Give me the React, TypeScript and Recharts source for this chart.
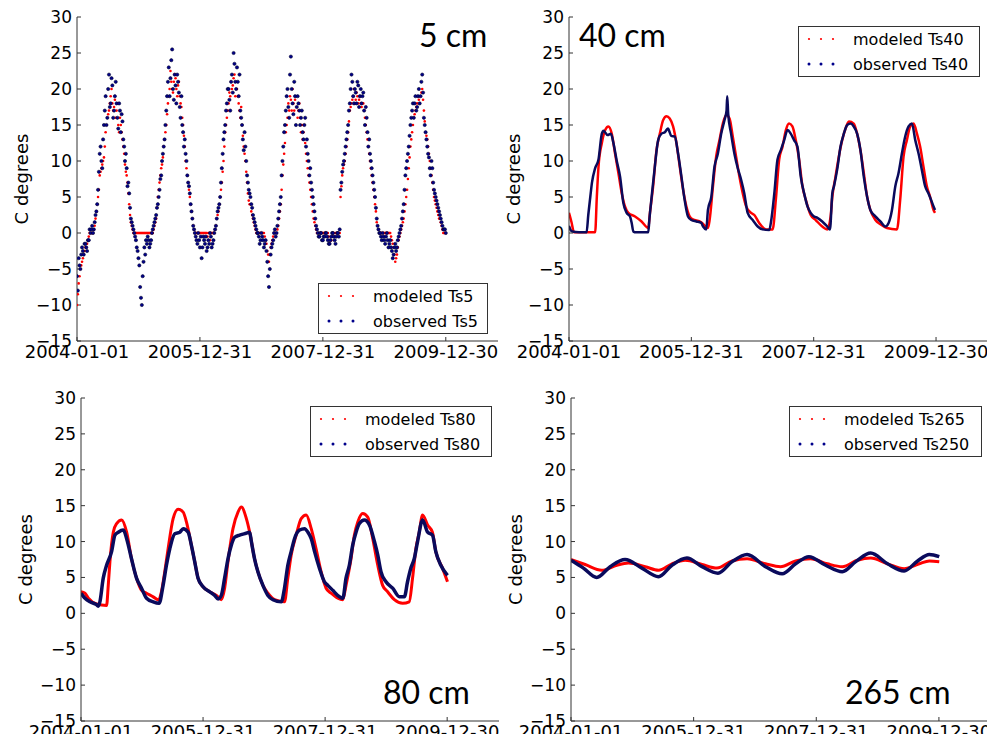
import React from 'react';
import { ComposedChart, Scatter, Line, XAxis, YAxis, Legend } from 'recharts';

const DATE_TICKS = [0, 730, 1460, 2190];
const DATE_LABELS = ['2004-01-01', '2005-12-31', '2007-12-31', '2009-12-30'];
const TEMP_TICKS = [-15, -10, -5, 0, 5, 10, 15, 20, 25, 30];

const RED = '#ff0000';
const NAVY = '#0a0a5c';
const DOT_NAVY = '#00008b';
const FRAME = '#333';
const FONT = '"DejaVu Sans", sans-serif';

// 5 cm: one reading every 5 days from 2004-01-01 (rows = 100 days)
const STEP_5 = 5;
const modeled5 = [
  -10, -8.5, -7, -6, -5, -4.5, -4, -3.5, -3, -2.5, -2, -2, -1.5, -1, -0.5, 0, 0, 0, 0, 0,
  0.5, 1, 2, 3, 4, 5, 6, 8, 8.5, 9, 9.5, 10, 10.5, 12, 14, 15, 16, 16.5, 17, 18,
  19, 20, 18, 17, 17.5, 18.5, 16, 17, 18, 15, 14, 16, 15, 14, 13, 12, 11, 9.5, 8.5, 8,
  7, 5.5, 4, 2.5, 1.5, 1, 0.5, 0, 0, 0, 0, 0, 0, 0, 0, 0, 0, 0, 0, 0,
  0, 0, 0, 0, 0, 0, 0, 0, 0, 0, 0, 0.5, 1, 1.5, 2, 3.5, 5, 6, 7, 8,
  9, 9.5, 10.5, 12, 13, 14, 15, 16.5, 18, 19, 20, 22.5, 21, 20, 19.5, 21, 22, 21.5, 20, 19,
  20.5, 21, 19, 18, 17.5, 16, 15, 13.5, 12, 10, 9, 8, 7, 6, 5, 4, 3, 2, 1, 0.5,
  0, 0, 0, 0, 0, 0, 0, 0, 0, 0, 0, 0, 0, 0, 0, -0.5, 0, 0, -1, 0,
  0, 0, 0, 0, 0.5, 1, 2, 2.5, 3, 4, 5, 6, 7, 8.5, 10, 12, 14, 15, 16, 17,
  18, 19.5, 19, 21, 20, 20.5, 21.5, 22, 19, 21, 20, 19, 18, 17, 16, 17.5, 15, 13.5, 12, 11,
  10, 8.5, 7, 5.5, 4.5, 4, 4, 3, 2.5, 2, 1.5, 1, 0.5, 0, 0, 0, 0, 0, 0, 0,
  0, 0, 0, -0.5, -1, -1.5, -2.5, -3, -4, -3, -2, -1.5, -1, -0.5, 0, 0, 0, 0, 0.5, 1,
  2, 3, 4, 6, 8, 9.5, 11, 12.5, 14, 15, 16, 18, 17, 19, 18.5, 17, 20, 18, 17, 18.5,
  19, 17.5, 16, 17, 18, 16, 14, 15, 13, 14, 15, 12.5, 11, 10, 9, 8, 7, 6, 5, 4,
  3, 2, 1.5, 1, 0.5, 0, 0, 0, 0, 0, 0, 0, 0, 0, 0, 0, 0, 0, 0, -0.5,
  -1.5, -1, -1, -0.5, 0, 0, -0.5, 0, 0, 0, 0, 0, 0, 5, 6.5, 8, 9, 9.5, 10, 11,
  12, 13, 14, 15.5, 17, 17.5, 18, 18.5, 19, 20, 18, 18.5, 19.5, 19, 18, 18.5, 19, 18, 17.5, 18,
  18, 17, 16, 15, 14, 13, 12, 11, 10, 9, 8, 7, 6, 5, 4, 3, 1.5, 1, 0.5, 0,
  0, 0, 0, 0, 0, 0, 0, 0, 0, 0, 0, 0, 0, -0.5, -1, -1.5, -2, -3, -4, -3.5,
  -3, -2, -1, -0.5, 0, 0.5, 1, 1.5, 2, 3, 4, 5, 6, 7.5, 9, 10.5, 12, 13, 14, 15,
  16, 16.5, 17, 17.5, 18, 19, 18.5, 18, 19, 19.5, 20, 18.5, 17, 15.5, 14, 13.5, 13, 12, 11, 10,
  9, 8, 7, 6, 5, 4.5, 4, 3.5, 3, 2.5, 2, 2, 1.5, 1, 0.5, 0, 0, 0, 0,
];
const observed5 = [
  -6, -8, -3.5, -4.5, -5, -3, -2, -2.5, -3, -1.5, -1.5, -2, -2.5, -1, -1, 0.5, 0, 0.5, 1, 0,
  0.5, 1.5, 2.5, 3, 4, 6, 8.5, 11, 12, 10, 9, 13, 15, 17, 19, 15, 16, 20, 22, 17.5,
  18, 21.5, 20.5, 16, 17, 19, 21, 18, 16, 14.5, 18, 17, 14, 16.5, 15.5, 13, 12, 10, 11, 9,
  6.5, 7, 5.5, 3.5, 2, 1.5, 1, 0.5, 0, -0.5, -1, -2, -2.5, -3.5, -4.5, -7.5, -9, -10, -6, -4,
  -2, -3, -1, -1.5, -0.5, -1, -2, -1.5, -1, 0, 0.5, 1, 1.5, 2, 2.5, 3.5, 4, 5, 6, 7.5,
  8, 10, 11, 12, 13, 15, 17, 19, 21, 23, 19, 21.5, 24, 25.5, 20, 18.5, 22, 20.5, 18, 22,
  21, 19.5, 17.5, 16, 19, 15, 14, 12, 13, 11, 10, 8, 7, 6.5, 5.5, 4, 3, 2, 1, 0.5,
  0, -0.5, -1, -1.5, 0, -1, -2, -0.5, -3.5, -2, -0.5, -1, -1.5, -0.5, -2.5, -2, -1, -1.5, 0, -0.5,
  -2, -1.5, -1, 0, 0.5, 1, 2, 3, 3.5, 4, 5, 7, 9, 11, 13, 14, 15, 17, 18, 20,
  20, 18.5, 17, 21, 22, 19.5, 25, 23.5, 21, 20, 23, 21, 19, 22, 17, 16, 15, 13, 11.5, 14,
  12, 10, 8, 7, 6, 5.5, 5, 4, 3.5, 2.5, 2, 1.5, 1, 0.5, 0, 0, -0.5, -1.5, -1, 0,
  -0.5, -1, -2, -1.5, -1, -2.5, -4, -6, -7.5, -5, -3, -2, -1.5, -1, 0, 0.5, -0.5, 0, 1, 2,
  3, 4, 5, 8, 10, 12, 14, 15, 17, 19, 20, 17.5, 16, 22, 24.5, 20, 18, 16.5, 21, 19,
  15, 17.5, 19, 18, 17, 15, 16, 17, 14, 13, 15, 16, 12, 13, 11, 10, 8, 9, 7, 6,
  5, 4, 3, 2, 1, 0.5, 0, -0.5, -0.5, 0, 0, -1, -1, -0.5, -0.5, 0, 0, -0.5, -1, -1.5,
  -1.5, -1, -0.5, 0, 0, -0.5, -1, -1.5, -0.5, 0, 0, -0.5, 0.5, 6, 7, 8.5, 9.5, 10, 11, 12,
  13, 14, 15, 17, 18, 20, 22, 21, 19, 18, 20, 19.5, 18, 21, 20.5, 17.5, 19, 20, 18, 19,
  19.5, 17, 15, 17.5, 16, 14, 12, 13, 11, 10, 9, 8, 7, 6, 5, 3.5, 2, 1, 0.5, 0,
  0, -0.5, -1, 0, -0.5, -1, -1.5, -0.5, 0, -1, -2, -1.5, -1, -2, -2.5, -3.5, -3, -2, -1.5, -2.5,
  -2, -1, -0.5, 0, 0.5, 1, 2, 3, 4, 6, 8, 9, 10, 11, 12, 13.5, 15, 16, 17, 18,
  16, 18, 19, 17, 17.5, 19, 20, 18, 19, 21, 22, 19.5, 16, 15, 14, 13, 12, 11, 10.5, 9,
  8, 10, 9, 7, 6, 5.5, 5, 4.5, 4, 3.5, 3, 2.5, 2, 1.5, 1, 0.5, 0.5, 0.5, 0,
];

// deeper sensors: [day since 2004-01-01, temperature]
const modeled40: [number, number][] = [
  [0, 2.8], [15, 1.5], [30, 0.1], [156, 0.1], [166, 5], [176, 9.2], [196, 12.5], [216, 14.3], [235, 14.8], [255, 13.8],
  [275, 11], [295, 8.3], [315, 5.5], [334, 3.7], [354, 2.8], [394, 2.3], [433, 1.6], [473, 0.7], [483, 2.8], [502, 6.5],
  [522, 11.5], [542, 13.8], [562, 15.7], [582, 16.2], [601, 15.9], [621, 14.8], [641, 12.5], [661, 9.2], [681, 6], [700, 3.7],
  [730, 2], [789, 1.5], [829, 0.7], [839, 1.8], [859, 6.5], [878, 10.6], [898, 12.9], [918, 15.2], [938, 16.4], [958, 15.9],
  [977, 13.4], [997, 10.6], [1017, 7.8], [1037, 5.5], [1057, 3.7], [1086, 2.8], [1106, 2.5], [1135, 1.4], [1175, 0.5], [1215, 0.5],
  [1234, 4.6], [1254, 10.2], [1274, 12], [1294, 14.3], [1313, 15.2], [1333, 14.8], [1353, 12.9], [1373, 10.2], [1393, 6.5], [1413, 4.6],
  [1442, 2.5], [1472, 1.8], [1511, 0.9], [1541, 0.5], [1561, 2.3], [1571, 5], [1590, 7.8], [1610, 10.6], [1630, 12.9], [1650, 14.5],
  [1670, 15.5], [1699, 15.2], [1719, 13.8], [1739, 11.5], [1759, 8.3], [1779, 5], [1798, 3.2], [1828, 1.8], [1858, 1.2], [1897, 0.7],
  [1957, 0.5], [1976, 4.6], [1996, 10.6], [2016, 12.9], [2036, 14.8], [2056, 15.2], [2076, 13.8], [2095, 12], [2115, 9.2], [2135, 6.5],
  [2155, 5], [2175, 3.2], [2184, 2.8],
];
const observed40: [number, number][] = [
  [0, 1], [10, 0.4], [20, 0.2], [60, 0.1], [105, 0.1], [115, 2.5], [127, 5], [137, 7], [156, 9], [176, 10.2],
  [196, 13.8], [206, 14.2], [230, 13.6], [250, 13.8], [265, 12.5], [285, 10], [305, 7.8], [324, 4.2], [344, 2.8], [364, 2.3],
  [374, 1.4], [384, 0.2], [400, 0.1], [473, 0.1], [480, 2], [493, 5], [512, 9.2], [532, 12.9], [552, 13.8], [572, 14],
  [590, 14.5], [610, 13.5], [631, 13.4], [651, 11], [671, 7.8], [690, 4.6], [710, 2.3], [730, 1.8], [760, 1.6], [789, 1.4],
  [800, 0.9], [819, 0.5], [829, 3.2], [849, 5], [868, 9.2], [888, 11], [908, 13.8], [928, 15.7], [940, 17], [944, 19],
  [950, 16.5], [967, 13.8], [987, 11], [1007, 9], [1027, 7.4], [1046, 5.5], [1066, 2.8], [1096, 1.8], [1126, 0.9], [1155, 0.5],
  [1195, 0.4], [1205, 1.5], [1225, 5.5], [1244, 10.2], [1264, 11.5], [1284, 12.9], [1304, 14.3], [1323, 13.8], [1343, 12.9], [1363, 12],
  [1383, 7.8], [1403, 5.5], [1423, 3.7], [1442, 2.8], [1462, 2.3], [1482, 2.1], [1511, 1.6], [1541, 0.9], [1557, 0.5], [1571, 5.5],
  [1581, 6.5], [1600, 8.8], [1620, 12], [1640, 13.8], [1660, 15], [1680, 15.2], [1699, 14.8], [1719, 13.8], [1739, 11.5], [1759, 7.8],
  [1779, 5], [1798, 3.2], [1828, 2.3], [1858, 1.6], [1887, 0.9], [1907, 1.4], [1927, 3.2], [1947, 6.5], [1966, 8.3], [1986, 11],
  [2006, 13.4], [2026, 14.8], [2046, 15.2], [2066, 12.9], [2086, 11], [2105, 8.8], [2125, 6.5], [2145, 5.5], [2175, 3.7], [2184, 3.2],
];

const modeled80: [number, number][] = [
  [0, 3], [24, 2.8], [44, 2.1], [93, 1.3], [153, 1.1], [163, 3.9], [173, 7.2], [193, 11.3], [213, 12.5], [243, 13],
  [273, 11.3], [302, 7.6], [332, 4.9], [362, 3.2], [392, 2.8], [432, 2.3], [461, 1.9], [481, 3], [501, 5.8], [521, 9],
  [551, 13.2], [581, 14.5], [611, 14.1], [631, 12.7], [660, 9.5], [680, 7.2], [700, 4.9], [730, 3.7], [770, 3], [810, 2.5],
  [839, 1.9], [859, 3.5], [879, 7.2], [909, 11.8], [939, 14.1], [959, 14.8], [989, 13.2], [1009, 11.3], [1038, 7.6], [1058, 5.8],
  [1088, 3.9], [1118, 2.8], [1158, 1.9], [1217, 1.6], [1237, 4.9], [1257, 8.1], [1287, 10.9], [1317, 13.2], [1347, 13.7], [1377, 11.8],
  [1406, 9], [1436, 5.8], [1466, 3.5], [1496, 2.8], [1536, 2.1], [1566, 1.9], [1585, 3.9], [1615, 7.6], [1635, 10.9], [1655, 12.7],
  [1685, 13.9], [1715, 13.4], [1745, 10.4], [1775, 6.7], [1804, 3.9], [1834, 3], [1874, 1.9], [1924, 1.4], [1963, 1.6], [1983, 4.9],
  [2003, 9], [2023, 11.3], [2043, 13.7], [2073, 12.3], [2102, 11.3], [2122, 8.6], [2162, 6.3], [2192, 4.4],
];
const observed80: [number, number][] = [
  [0, 2.8], [24, 2.1], [54, 1.6], [93, 1.2], [103, 1], [113, 1.6], [133, 4.9], [153, 6.7], [183, 8.6], [203, 10.9],
  [223, 11.3], [253, 11.6], [273, 10.4], [302, 7.6], [332, 4.9], [362, 3.5], [392, 2.1], [432, 1.6], [467, 1.4], [491, 3.9],
  [511, 6.7], [531, 9], [561, 11.1], [591, 11.3], [611, 11.8], [641, 11.3], [660, 9.5], [680, 7.2], [700, 4.9], [730, 3.7],
  [770, 3], [800, 2.5], [820, 2], [839, 2.5], [859, 4.9], [879, 7.6], [899, 9.5], [919, 10.6], [949, 10.9], [979, 11.1],
  [1009, 11.3], [1019, 10], [1038, 7.6], [1058, 5.8], [1088, 3.9], [1118, 2.5], [1148, 1.9], [1198, 1.6], [1217, 3.5], [1237, 6.7],
  [1257, 8.6], [1277, 10.4], [1307, 11.6], [1337, 11.8], [1357, 11.3], [1377, 10.4], [1397, 8.6], [1426, 6.3], [1456, 4.4], [1476, 3.9],
  [1506, 3.2], [1546, 2.3], [1566, 2.1], [1585, 4.9], [1605, 6.7], [1625, 9.5], [1645, 11.3], [1665, 12.5], [1695, 13], [1725, 12.3],
  [1755, 10], [1775, 8.1], [1794, 5.8], [1824, 4.4], [1864, 3.5], [1904, 2.3], [1934, 2.3], [1953, 4.4], [1973, 6.3], [1993, 7.6],
  [2013, 10], [2043, 13], [2073, 11.3], [2102, 10.9], [2122, 8.6], [2152, 6.7], [2192, 5.3],
];

const modeled265: [number, number][] = [
  [0, 7.5], [84, 6.8], [183, 6], [273, 6.7], [342, 7], [442, 6.5], [521, 6], [601, 6.9], [680, 7.4], [780, 6.8],
  [869, 6.3], [959, 7.3], [1048, 7.6], [1158, 6.9], [1247, 6.5], [1337, 7.3], [1426, 7.6], [1526, 6.9], [1615, 6.5], [1705, 7.4],
  [1784, 7.7], [1884, 6.9], [1983, 6.2], [2073, 6.9], [2133, 7.3], [2192, 7.2],
];
const observed250: [number, number][] = [
  [0, 7.4], [74, 6.3], [153, 5], [233, 6.5], [322, 7.5], [422, 6.3], [521, 5.1], [601, 6.7], [690, 7.7], [780, 6.5],
  [875, 5.6], [959, 7.2], [1048, 8.2], [1158, 6.5], [1257, 5.5], [1337, 6.9], [1416, 7.9], [1516, 6.7], [1615, 5.8], [1695, 7.2],
  [1784, 8.4], [1884, 6.9], [1983, 5.9], [2063, 7.3], [2133, 8.2], [2192, 7.9],
];

const every = (vals: number[], step: number) => vals.map((temp, i) => ({ day: i * step, temp }));
const pairs = (rows: [number, number][]) => rows.map(([day, temp]) => ({ day, temp }));

const redDot = (p: any) => <circle cx={p.cx} cy={p.cy} r={1.3} fill={RED} />;
const navyDot = (p: any) => (
  <circle cx={p.cx} cy={p.cy} r={1.6} fill={DOT_NAVY} stroke="#000030" strokeWidth={0.6} />
);

const dateLabel = (v: number) => DATE_LABELS[DATE_TICKS.indexOf(v)] ?? '';
const tempLabel = (v: number) => (v < 0 ? `\u2212${-v}` : `${v}`);

const yLabel = (props: any) => {
  const vb = props.viewBox;
  const cx = vb.x + vb.width - 56;
  const cy = vb.y + vb.height / 2;
  return (
    <text
      transform={`translate(${cx}, ${cy}) rotate(-90)`}
      textAnchor="middle"
      dominantBaseline="central"
      fontFamily={FONT}
      fontSize={18}
      fill="#000"
    >
      C degrees
    </text>
  );
};

function LegendBox({ labels, width }: { labels: string[]; width: number }) {
  return (
    <div
      style={{
        width,
        height: 51,
        boxSizing: 'border-box',
        border: '1px solid #333',
        background: '#fff',
        position: 'relative',
        fontFamily: FONT,
        fontSize: 16,
        color: '#000',
      }}
    >
      {labels.map((label, i) => (
        <div
          key={label}
          style={{ position: 'absolute', left: 0, top: i ? 25 : 0, height: 24, display: 'flex', alignItems: 'center', whiteSpace: 'nowrap' }}
        >
          <svg width={54} height={24}>
            {[10, 22, 34].map((cx) => (
              <circle key={cx} cx={cx} cy={12} r={i ? 1.5 : 1.1} fill={i ? DOT_NAVY : RED} />
            ))}
          </svg>
          <span>{label}</span>
        </div>
      ))}
    </div>
  );
}

type PanelProps = {
  x: number;
  y: number;
  width: number;
  marginTop: number;
  marginRight: number;
  axisWidth: number;
  axisHeight: number;
  legendLabels: string[];
  legendLeft: number;
  legendTop: number;
  legendWidth: number;
  depth: string;
  depthLeft: number;
  depthTop: number;
  children: React.ReactNode;
};

function Panel(p: PanelProps) {
  return (
    <div style={{ position: 'absolute', left: p.x, top: p.y, width: p.width, height: 370 }}>
      <ComposedChart
        width={p.width}
        height={370}
        margin={{ top: p.marginTop, right: p.marginRight, bottom: 0, left: 0 }}
      >
        <XAxis
          type="number"
          dataKey="day"
          domain={[0, 2500]}
          ticks={DATE_TICKS}
          interval={0}
          tickFormatter={dateLabel}
          height={p.axisHeight}
          tickSize={-4}
          tickMargin={8}
          axisLine={{ stroke: FRAME }}
          tickLine={{ stroke: FRAME }}
          tick={{ fill: '#000', fontSize: 18, fontFamily: FONT }}
          allowDataOverflow
        />
        <XAxis
          xAxisId="top"
          orientation="top"
          type="number"
          dataKey="day"
          domain={[0, 2500]}
          ticks={DATE_TICKS}
          interval={0}
          height={0}
          tickSize={-4}
          axisLine={{ stroke: FRAME }}
          tickLine={{ stroke: FRAME }}
          tick={false}
          allowDataOverflow
        />
        <YAxis
          type="number"
          domain={[-15, 30]}
          ticks={TEMP_TICKS}
          interval={0}
          tickFormatter={tempLabel}
          width={p.axisWidth}
          tickSize={-4}
          tickMargin={9}
          axisLine={{ stroke: FRAME }}
          tickLine={{ stroke: FRAME }}
          tick={{ fill: '#000', fontSize: 17, fontFamily: FONT }}
          label={{ content: yLabel }}
          allowDataOverflow
        />
        <YAxis
          yAxisId="right"
          orientation="right"
          type="number"
          domain={[-15, 30]}
          ticks={TEMP_TICKS}
          interval={0}
          width={0}
          tickSize={-4}
          axisLine={{ stroke: FRAME }}
          tickLine={{ stroke: FRAME }}
          tick={false}
          allowDataOverflow
        />
        <Legend
          layout="horizontal"
          verticalAlign="middle"
          align="center"
          wrapperStyle={{ left: p.legendLeft, top: p.legendTop, width: p.legendWidth, height: 51 }}
          content={() => <LegendBox labels={p.legendLabels} width={p.legendWidth} />}
        />
        {p.children}
      </ComposedChart>
      <div
        style={{
          position: 'absolute',
          left: p.depthLeft - p.x,
          top: p.depthTop - p.y,
          fontFamily: 'Lato, "Open Sans", sans-serif',
          fontSize: 32,
          lineHeight: '32px',
          color: '#000',
          whiteSpace: 'nowrap',
        }}
      >
        {p.depth}
      </div>
    </div>
  );
}

export default function App() {
  return (
    <div style={{ position: 'relative', width: 995, height: 742, margin: -8, background: '#fff', overflow: 'hidden' }}>
      <Panel
        x={0} y={0} width={510} marginTop={17} marginRight={12} axisWidth={77} axisHeight={29}
        legendLabels={['modeled Ts5', 'observed Ts5']} legendLeft={318} legendTop={283} legendWidth={170}
        depth="5 cm" depthLeft={419} depthTop={19}
      >
        <Scatter data={every(modeled5, STEP_5)} dataKey="temp" shape={redDot} isAnimationActive={false} />
        <Scatter data={every(observed5, STEP_5)} dataKey="temp" shape={navyDot} isAnimationActive={false} />
      </Panel>
      <Panel
        x={495} y={0} width={500} marginTop={17} marginRight={7} axisWidth={74} axisHeight={29}
        legendLabels={['modeled Ts40', 'observed Ts40']} legendLeft={303} legendTop={26} legendWidth={182}
        depth="40 cm" depthLeft={579} depthTop={19}
      >
        <Line data={pairs(modeled40)} dataKey="temp" type="monotone" stroke={RED} strokeWidth={2.5} dot={false} isAnimationActive={false} />
        <Line data={pairs(observed40)} dataKey="temp" type="monotone" stroke={NAVY} strokeWidth={2.5} dot={false} isAnimationActive={false} />
      </Panel>
      <Panel
        x={0} y={372} width={510} marginTop={26} marginRight={11} axisWidth={81} axisHeight={21}
        legendLabels={['modeled Ts80', 'observed Ts80']} legendLeft={310} legendTop={34} legendWidth={182}
        depth="80 cm" depthLeft={383} depthTop={676}
      >
        <Line data={pairs(modeled80)} dataKey="temp" type="monotone" stroke={RED} strokeWidth={3} dot={false} isAnimationActive={false} />
        <Line data={pairs(observed80)} dataKey="temp" type="monotone" stroke={NAVY} strokeWidth={3.5} dot={false} isAnimationActive={false} />
      </Panel>
      <Panel
        x={495} y={372} width={500} marginTop={26} marginRight={4} axisWidth={76} axisHeight={21}
        legendLabels={['modeled Ts265', 'observed Ts250']} legendLeft={294} legendTop={34} legendWidth={193}
        depth="265 cm" depthLeft={845} depthTop={676}
      >
        <Line data={pairs(modeled265)} dataKey="temp" type="monotone" stroke={RED} strokeWidth={3} dot={false} isAnimationActive={false} />
        <Line data={pairs(observed250)} dataKey="temp" type="monotone" stroke={NAVY} strokeWidth={3.5} dot={false} isAnimationActive={false} />
      </Panel>
    </div>
  );
}
